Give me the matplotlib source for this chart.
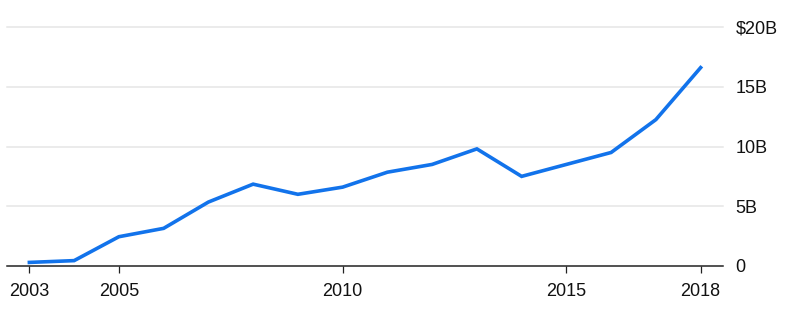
import matplotlib.pyplot as plt

years = [2003, 2004, 2005, 2006, 2007, 2008, 2009, 2010,
         2011, 2012, 2013, 2014, 2015, 2016, 2017, 2018]
values = [0.3, 0.45, 2.45, 3.15, 5.35, 6.85, 6.0, 6.6,
          7.85, 8.5, 9.8, 7.5, 8.5, 9.5, 12.25, 16.6]
x_ticks = [2003, 2005, 2010, 2015, 2018]
y_ticks = [0, 5, 10, 15, 20]
y_labels = ['0', '5B', '10B', '15B', '$20B']

plt.rcParams['font.family'] = ['Liberation Sans', 'DejaVu Sans']

fig = plt.figure(figsize=(7.92, 3.19), dpi=100)
ax = fig.add_axes([7 / 792, 53 / 319, 716 / 792, 239 / 319])

ax.plot(years, values, color='#1273eb', linewidth=2.6,
        solid_joinstyle='miter', zorder=3)

ax.set_xlim(2002.5, 2018.5)
ax.set_ylim(0, 20)

for s in ['top', 'left', 'right']:
    ax.spines[s].set_visible(False)
ax.spines['bottom'].set_color('#222222')
ax.spines['bottom'].set_linewidth(1.1)

ax.set_xticks(x_ticks)
ax.set_xticklabels([str(t) for t in x_ticks])
ax.tick_params(axis='x', length=5, width=0.9, color='#222222',
               labelsize=13, labelcolor='#111111', pad=7)

ax.yaxis.tick_right()
ax.set_yticks(y_ticks)
ax.set_yticklabels(y_labels)
ax.tick_params(axis='y', length=0, labelsize=13, labelcolor='#111111', pad=9)
for lbl in ax.get_yticklabels():
    lbl.set_horizontalalignment('left')

for v in y_ticks[1:]:
    ax.axhline(v, color='#e6e6e6', linewidth=1.1, zorder=1, clip_on=False)

fig.savefig('out.png', dpi=100)
